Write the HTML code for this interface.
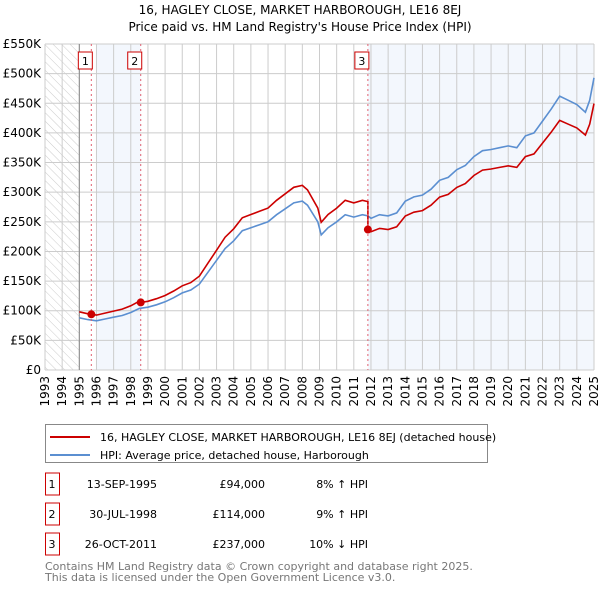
<!DOCTYPE html>
<html><head><meta charset="utf-8"><style>
body{margin:0;background:#fff;font-family:"DejaVu Sans","Liberation Sans",sans-serif;}
svg text{font-family:"DejaVu Sans","Liberation Sans",sans-serif;}
</style></head><body>
<svg width="600" height="590" viewBox="0 0 600 590">
<defs><pattern id="hatch" width="6" height="6" patternUnits="userSpaceOnUse" patternTransform="rotate(-45)"><line x1="0" y1="0" x2="0" y2="6" stroke="#ccc" stroke-width="1"/></pattern></defs>
<text x="300" y="14" text-anchor="middle" font-size="12">16, HAGLEY CLOSE, MARKET HARBOROUGH, LE16 8EJ</text>
<text x="300" y="31" text-anchor="middle" font-size="12">Price paid vs. HM Land Registry's House Price Index (HPI)</text>
<g id="plot"></g>
<g>
<rect x="45.5" y="424.5" width="442" height="38" fill="#fff" stroke="#888"/>
<line x1="50" y1="437" x2="90" y2="437" stroke="#cc0000" stroke-width="2"/>
<text x="100" y="441" font-size="11">16, HAGLEY CLOSE, MARKET HARBOROUGH, LE16 8EJ (detached house)</text>
<line x1="50" y1="455" x2="90" y2="455" stroke="#5b8fd1" stroke-width="2"/>
<text x="100" y="459" font-size="11">HPI: Average price, detached house, Harborough</text>
</g>
<g id="table" font-size="11"></g>
<text x="45" y="570" font-size="11" fill="#777">Contains HM Land Registry data © Crown copyright and database right 2025.</text>
<text x="45" y="581" font-size="11" fill="#777">This data is licensed under the Open Government Licence v3.0.</text>
</svg>
<script>
const hpiYears=[1995,1995.5,1996,1996.5,1997,1997.5,1998,1998.5,1999,1999.5,2000,2000.5,2001,2001.5,2002,2002.5,2003,2003.5,2004,2004.5,2005,2005.5,2006,2006.5,2007,2007.5,2008,2008.3,2008.9,2009.1,2009.5,2010,2010.5,2011,2011.5,2011.82,2012,2012.5,2013,2013.5,2014,2014.5,2015,2015.5,2016,2016.5,2017,2017.5,2018,2018.5,2019,2019.5,2020,2020.5,2021,2021.5,2022,2022.5,2023,2023.5,2024,2024.5,2024.75,2025];
const hpiValues=[88,85,83,86,89,92,97,104,106,110,115,122,130,135,145,165,185,205,218,235,240,245,250,262,272,282,285,278,250,228,240,250,262,258,262,260,256,262,260,265,285,292,295,305,320,325,338,345,360,370,372,375,378,375,395,400,420,440,462,455,448,435,455,493];
const saleYears=[1995.7,1998.58,2011.82];
const salePrices=[94000,114000,237000];
const saleDates=["13-SEP-1995","30-JUL-1998","26-OCT-2011"];
const salePriceLabels=["£94,000","£114,000","£237,000"];
const saleDiffs=["8% ↑ HPI","9% ↑ HPI","10% ↓ HPI"];
const yTicks=[0,50,100,150,200,250,300,350,400,450,500,550];
const yTickLabels=["£0","£50K","£100K","£150K","£200K","£250K","£300K","£350K","£400K","£450K","£500K","£550K"];
const xTicks=[1993,1994,1995,1996,1997,1998,1999,2000,2001,2002,2003,2004,2005,2006,2007,2008,2009,2010,2011,2012,2013,2014,2015,2016,2017,2018,2019,2020,2021,2022,2023,2024,2025];

const L=45,R=594,T=44,B=370;
const X=y=>L+(y-1993)/(2025-1993)*(R-L);
const Y=v=>B-v/550*(B-T);
const NS="http://www.w3.org/2000/svg";
const plot=document.getElementById('plot');
function mk(tag,attrs,parent){const e=document.createElementNS(NS,tag);for(const k in attrs)e.setAttribute(k,attrs[k]);(parent||plot).appendChild(e);return e;}
function hpiAt(t){for(let i=1;i<hpiYears.length;i++){if(t<=hpiYears[i]){const f=(t-hpiYears[i-1])/(hpiYears[i]-hpiYears[i-1]);return hpiValues[i-1]+f*(hpiValues[i]-hpiValues[i-1]);}}return hpiValues[hpiValues.length-1];}

let e=mk('rect',{x:L,y:T,width:X(1995)-L,height:B-T,fill:'url(#hatch)'});


e=mk('rect',{x:X(1996),y:T,width:X(saleYears[1])-X(1996),height:B-T,fill:'#eef3fc',opacity:0.7});


e=mk('rect',{x:X(saleYears[2]),y:T,width:R-X(saleYears[2]),height:B-T,fill:'#eef3fc',opacity:0.7});



xTicks.forEach(t=>{
 const l=mk('line',{x1:X(t),x2:X(t),y1:T,y2:B,stroke:'#ccc','stroke-width':1});
 
 
 const tx=mk('text',{x:0,y:0,'font-size':12,'text-anchor':'end',transform:`translate(${X(t)+4},${B+6}) rotate(-90)`});
 tx.textContent=t;
 
 
});
yTicks.forEach((v,i)=>{
 const l=mk('line',{x1:L,x2:R,y1:Y(v),y2:Y(v),stroke:'#ccc','stroke-width':1});
 
 
 const tx=mk('text',{x:L-4,y:Y(v)+4,'font-size':12,'text-anchor':'end'});
 tx.textContent=yTickLabels[i];
 
 
});
e=mk('line',{x1:X(1995),x2:X(1995),y1:T,y2:B,stroke:'#888'});



// HPI line
let d='';hpiYears.forEach((t,i)=>{d+=(i?'L':'M')+X(t).toFixed(1)+','+Y(hpiValues[i]).toFixed(1);});
e=mk('path',{d,fill:'none',stroke:'#5b8fd1','stroke-width':1.6});



// Price paid line: indexed from latest sale
function segIdx(t){let s=0;for(let i=0;i<saleYears.length;i++)if(t>=saleYears[i])s=i;return s;}
const pts=[];
const times=hpiYears.concat(saleYears,saleYears.map(s=>s-0.001)).sort((a,b)=>a-b);
times.forEach(t=>{const s=segIdx(t);pts.push([t,salePrices[s]/1000*hpiAt(t)/hpiAt(saleYears[s])]);});
d='';pts.forEach((p,i)=>{d+=(i?'L':'M')+X(p[0]).toFixed(1)+','+Y(p[1]).toFixed(1);});
e=mk('path',{d,fill:'none',stroke:'#cc0000','stroke-width':1.6});



saleYears.forEach((t,i)=>{
 const l=mk('line',{x1:X(t),x2:X(t),y1:T,y2:B,stroke:'#e06070','stroke-dasharray':'2,3'});
 
 
 const c=mk('circle',{cx:X(t),cy:Y(salePrices[i]/1000),r:4,fill:'#cc0000'});
 
 
 const r=mk('rect',{x:X(t)-13,y:52,width:14,height:17,fill:'#fff',stroke:'#cc0000'});
 
 
 const tx=mk('text',{x:X(t)-6,y:65,'font-size':11,'text-anchor':'middle'});
 tx.textContent=i+1;
 
 
});

const tbl=document.getElementById('table');
saleYears.forEach((t,i)=>{
 const cy=[484,514,544][i];
 const r=mk('rect',{x:45.5,y:cy-11,width:14,height:22,fill:'#fff',stroke:'#cc0000'},tbl);
 
 
 const cells=[[52,'middle',String(i+1)],[157,'end',saleDates[i]],[265,'end',salePriceLabels[i]],[368,'end',saleDiffs[i]]];
 cells.forEach(c=>{const tx=mk('text',{x:c[0],y:cy+4,'text-anchor':c[1]},tbl);tx.textContent=c[2];
  
  });
});
</script>
</body></html>
